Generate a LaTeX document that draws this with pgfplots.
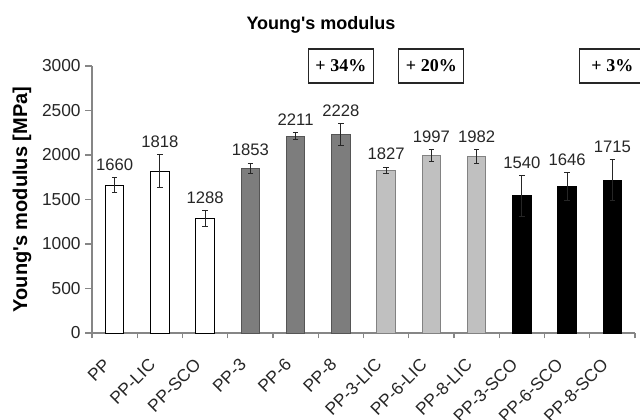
\documentclass[border=0pt]{standalone}
\usepackage{fontspec}
\setmainfont{Liberation Sans}
\newfontfamily\serifbox{Liberation Serif}
\usepackage{pgfplots}
\usepackage{pgfplotstable}
\pgfplotsset{compat=1.18}
\definecolor{darkbar}{RGB}{125,125,125}
\definecolor{darkedge}{RGB}{85,85,85}
\definecolor{lightbar}{RGB}{192,192,192}
\definecolor{lightedge}{RGB}{130,130,130}
\definecolor{axisgray}{RGB}{134,134,134}

\pgfplotstableread{
x y err
0 1660 85
1 1818 185
2 1288 88
}\grpA
\pgfplotstableread{
x y err
3 1853 55
4 2211 38
5 2228 125
}\grpB
\pgfplotstableread{
x y err
6 1827 38
7 1997 65
8 1982 80
}\grpC
\pgfplotstableread{
x y err
9 1540 230
10 1646 160
11 1715 230
}\grpD
\pgfplotstableread{
x y err
0 1660 85
1 1818 185
2 1288 88
3 1853 55
4 2211 38
5 2228 125
6 1827 38
7 1997 65
8 1982 80
9 1540 230
10 1646 160
11 1715 230
}\alldata

\begin{document}
\begin{tikzpicture}
\useasboundingbox (-69pt,-64.5pt) rectangle (411pt,249.75pt);
\begin{axis}[
  scale only axis, width=407.25pt, height=200.25pt,
  xmin=-0.5, xmax=11.5, ymin=0, ymax=3000,
  ytick={0,500,...,3000},
  xtick={0,...,11},
  xticklabels={PP,PP-LIC,PP-SCO,PP-3,PP-6,PP-8,PP-3-LIC,PP-6-LIC,PP-8-LIC,PP-3-SCO,PP-6-SCO,PP-8-SCO},
  minor xtick={-0.5,0.5,...,11.5},
  axis x line*=bottom, axis y line*=left,
  axis line style={axisgray, line width=0.9pt},
  tick align=outside,
  major tick length=5pt, minor tick length=4pt,
  tick style={axisgray, line width=0.8pt},
  major x tick style={draw=none},
  /pgf/number format/1000 sep={},
  /pgf/number format/assume math mode=true,
  tick label style={font=\fontsize{13}{15}\selectfont, text=black!85},
  xticklabel style={xshift=-5.5pt, yshift=-16.5pt, rotate=45, anchor=east, inner sep=0pt},
  ylabel={Young\textquotesingle s modulus [MPa]},
  ylabel style={font=\bfseries\fontsize{15}{17}\selectfont, at={(axis description cs:-0.129,0.5)}, anchor=center},
  clip=false,
  error bars/error bar style={black!85, line width=0.6pt},
  error bars/error mark options={rotate=90, mark size=2pt, black!85, line width=0.6pt},
]
\addplot[ybar, bar width=0.41, fill=white, draw=black, line width=0.7pt,
  error bars/.cd, y dir=both, y explicit]
  table[x=x, y=y, y error=err]{\grpA};
\addplot[ybar, bar width=0.41, fill=darkbar, draw=darkedge, line width=0.7pt,
  error bars/.cd, y dir=both, y explicit]
  table[x=x, y=y, y error=err]{\grpB};
\addplot[ybar, bar width=0.41, fill=lightbar, draw=lightedge, line width=0.7pt,
  error bars/.cd, y dir=both, y explicit]
  table[x=x, y=y, y error=err]{\grpC};
\addplot[ybar, bar width=0.41, fill=black, draw=black, line width=0.7pt,
  error bars/.cd, y dir=both, y explicit]
  table[x=x, y=y, y error=err]{\grpD};
\addplot[only marks, mark=*, mark size=0pt, mark options={draw=none, fill=none},
  nodes near coords, point meta=explicit symbolic,
  nodes near coords style={anchor=center, yshift=9.75pt, font=\fontsize{12.5}{14}\selectfont, text=black!85}]
  table[x=x, y expr=\thisrow{y}+\thisrow{err}, meta=y]{\alldata};
\node[draw=black!85, line width=0.8pt, minimum width=48.75pt, minimum height=25.5pt,
  font=\serifbox\bfseries\fontsize{13.5}{15}\selectfont] at (axis cs:5,3000) {+ 34\%};
\node[draw=black!85, line width=0.8pt, minimum width=48.75pt, minimum height=25.5pt,
  font=\serifbox\bfseries\fontsize{13.5}{15}\selectfont] at (axis cs:7,3000) {+ 20\%};
\node[draw=black!85, line width=0.8pt, minimum width=48.75pt, minimum height=25.5pt,
  font=\serifbox\bfseries\fontsize{13.5}{15}\selectfont] at (axis cs:11,3000) {+ 3\%};
\end{axis}
\node[anchor=base, font=\bfseries\fontsize{13.5}{16}\selectfont] at (171.75pt,228pt) {Young\textquotesingle s modulus};
\end{tikzpicture}
\end{document}
